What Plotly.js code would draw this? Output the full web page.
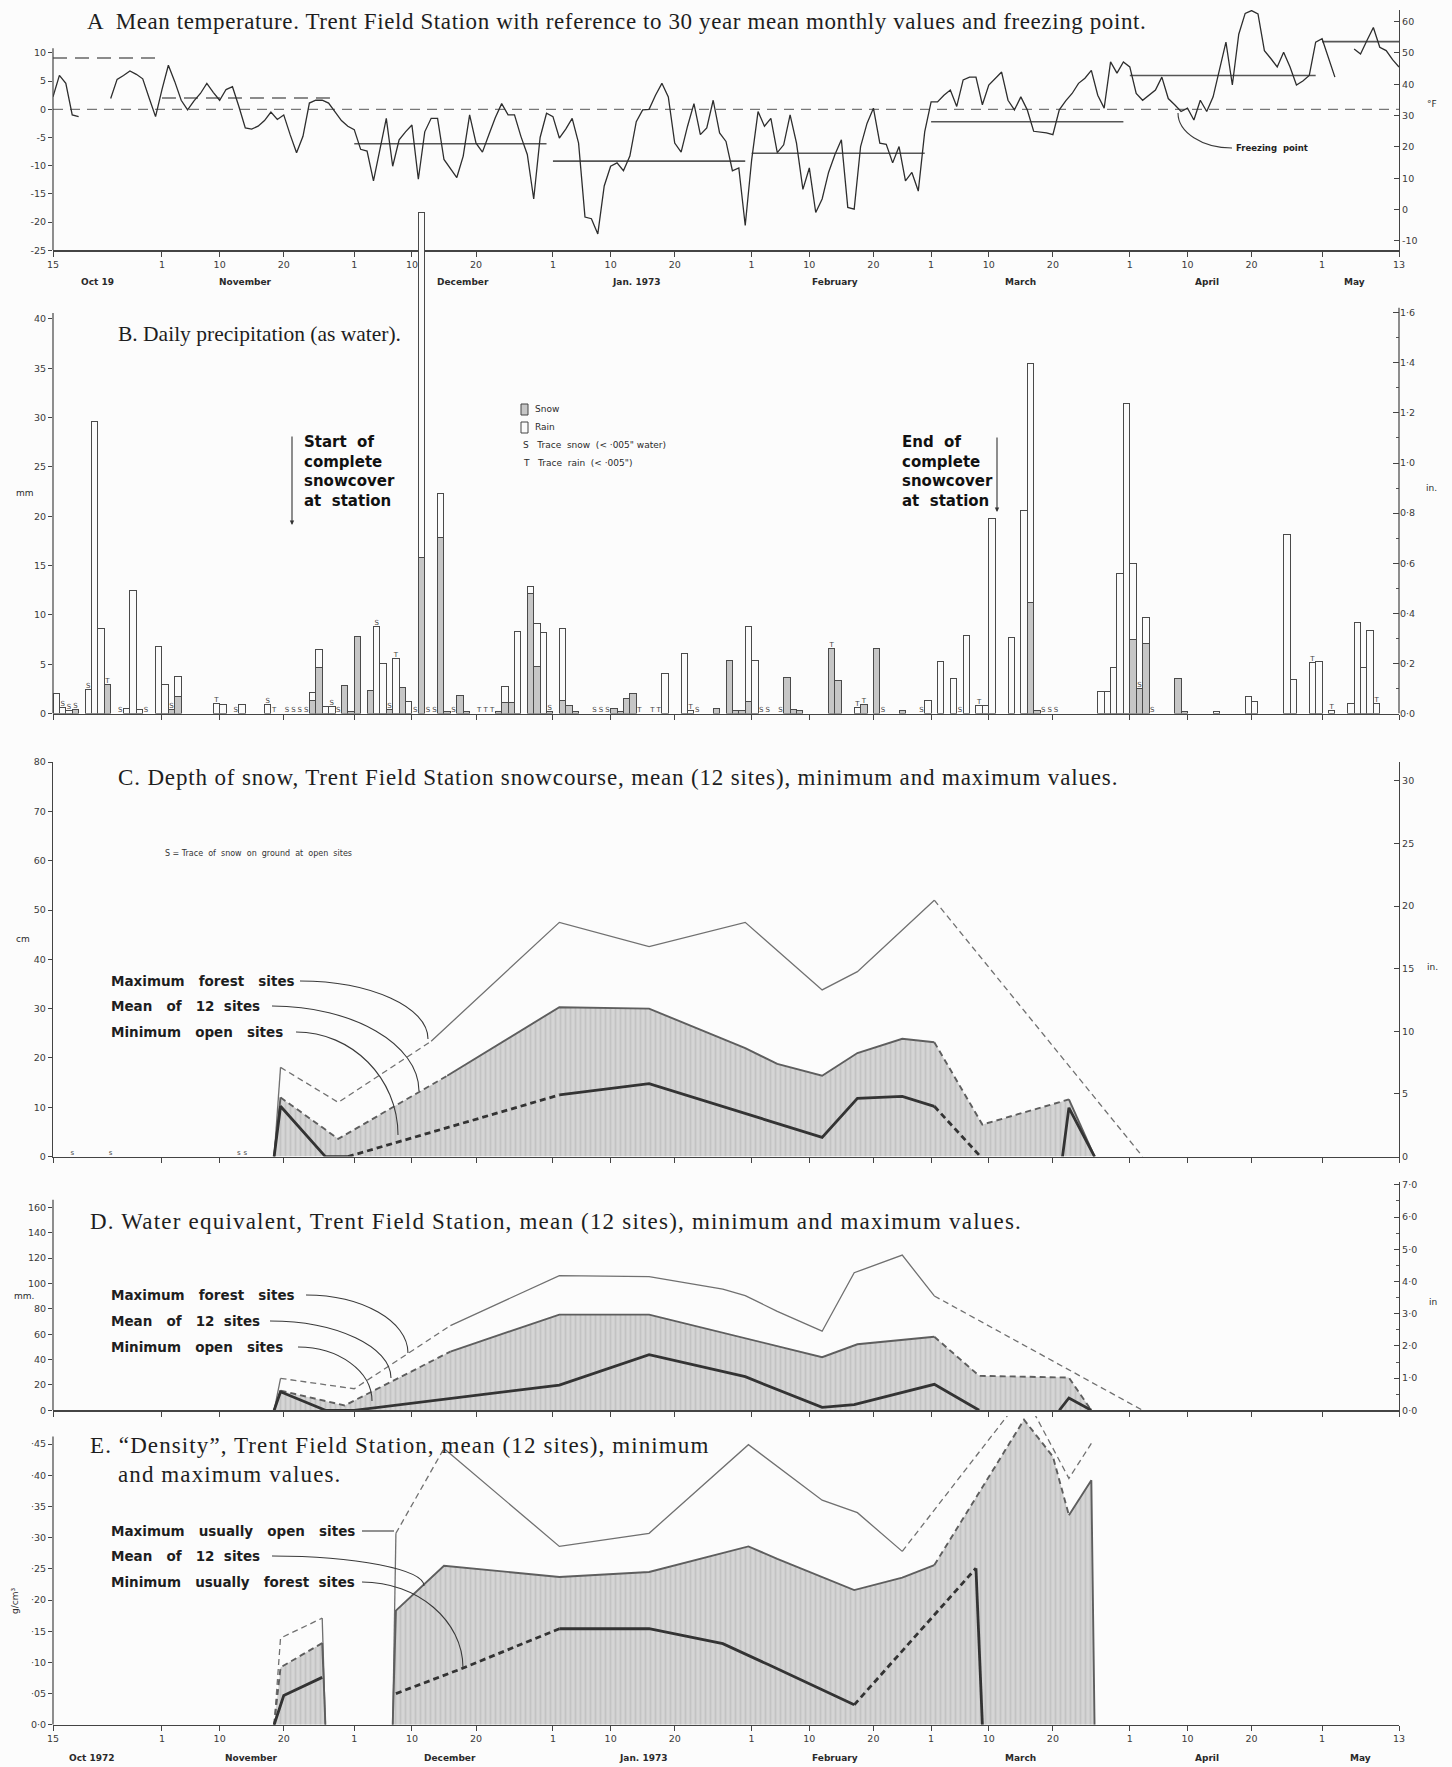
<!DOCTYPE html>
<html>
<head>
<meta charset="utf-8">
<script src="https://cdn.plot.ly/plotly-3.0.1.min.js"></script>
<style>
  html, body { margin: 0; padding: 0; background: #fcfcfc; }
  #chart { width: 1452px; height: 1767px; }
</style>
</head>
<body>
<div id="chart"></div>
<script>
// ===================== DATA =====================

// A. Daily mean temperature (°C), one value per day from 15 Oct 1972 (null = no record)
const tempStart = '1972-10-15';
const tempC = [
  2.2, 6.0, 4.6, -1.0, -1.3, null, null, null, null, 1.9,
  5.3, 6.0, 6.8, 6.2, 5.4, 2.0, -1.3, 3.5, 7.8, 4.9,
  1.6, -0.1, 1.5, 2.8, 4.6, 3.0, 1.6, 3.5, 4.0, 0.5,
  -3.3, -3.5, -3.0, -2.0, -0.5, -1.8, -1.0, -4.5, -7.7, -4.8,
  1.1, 1.6, 1.6, 1.1, -0.4, -2.0, -3.0, -3.6, -7.1, -7.4,
  -12.7, -7.4, -1.6, -10.1, -5.4, -4.0, -2.8, -12.4, -4.0, -1.6,
  -1.6, -8.9, -10.5, -12.1, -8.3, -1.0, -6.0, -7.6, -4.5, -1.5,
  1.0, -1.0, -1.0, -4.8, -8.0, -15.9, -5.0, -0.7, -1.3, -5.1,
  -3.5, -1.6, -6.0, -19.1, -19.4, -22.1, -13.6, -10.1, -9.5, -10.9,
  -8.3, -2.2, -0.1, 0.0, 2.5, 4.6, 2.2, -6.0, -7.6, -3.0,
  1.0, -4.5, -3.3, 1.6, -4.2, -5.7, -10.9, -10.4, -20.6, -9.0,
  -0.4, -3.0, -1.6, -7.7, -6.3, -1.0, -6.0, -14.2, -10.4, -18.3,
  -15.9, -11.2, -8.0, -5.4, -17.4, -17.7, -6.6, -2.5, 0.2, -6.0,
  -6.2, -9.5, -6.6, -12.7, -11.2, -14.5, -4.0, 1.3, 1.3, 2.5,
  3.4, 0.5, 5.2, 5.7, 5.7, 0.8, 4.3, 5.5, 6.6, 1.6,
  -0.1, 2.2, -0.1, -3.9, -4.0, -4.2, -4.5, -0.1, 1.5, 2.8,
  4.6, 5.5, 6.9, 2.5, 0.2, 8.4, 6.4, 8.4, 7.5, 2.8,
  1.6, 2.5, 3.4, 5.7, 1.9, 0.8, -0.4, 0.2, -1.9, 1.6,
  -0.4, 2.2, 7.0, 11.9, 4.3, 13.3, 17.0, 17.5, 16.9, 10.4,
  9.0, 7.5, 10.1, 7.5, 4.3, 5.0, 6.0, 11.9, 12.5, 9.0,
  5.7, null, null, 10.7, 9.8, 12.2, 14.5, 11.0, 10.4, 8.8, 7.5
];

// 30-year mean monthly temperatures (°C)
const normStart = ['1972-10-15', '1972-11-01', '1972-12-01', '1973-01-01', '1973-02-01', '1973-03-01', '1973-04-01', '1973-05-01'];
const normEnd   = ['1972-10-31', '1972-11-28', '1972-12-31', '1973-01-31', '1973-02-28', '1973-03-31', '1973-04-30', '1973-05-13'];
const normC     = [9.1, 2.0, -6.1, -9.2, -7.8, -2.2, 6.0, 12.0];

// B. Daily precipitation as water (mm)
const precipDate = [
  '1972-10-15', '1972-10-16', '1972-10-17', '1972-10-18', '1972-10-20', '1972-10-21', '1972-10-22', '1972-10-23',
  '1972-10-26', '1972-10-27', '1972-10-28', '1972-10-31', '1972-11-01', '1972-11-02', '1972-11-03', '1972-11-09',
  '1972-11-10', '1972-11-13', '1972-11-17', '1972-11-24', '1972-11-25', '1972-11-26', '1972-11-27', '1972-11-29',
  '1972-11-30', '1972-12-01', '1972-12-03', '1972-12-04', '1972-12-05', '1972-12-06', '1972-12-07', '1972-12-08',
  '1972-12-09', '1972-12-11', '1972-12-14', '1972-12-15', '1972-12-17', '1972-12-18', '1972-12-23', '1972-12-24',
  '1972-12-25', '1972-12-26', '1972-12-28', '1972-12-29', '1972-12-30', '1972-12-31', '1973-01-02', '1973-01-03',
  '1973-01-04', '1973-01-10', '1973-01-11', '1973-01-12', '1973-01-13', '1973-01-18', '1973-01-21', '1973-01-22',
  '1973-01-26', '1973-01-28', '1973-01-29', '1973-01-30', '1973-01-31', '1973-02-01', '1973-02-06', '1973-02-07',
  '1973-02-08', '1973-02-13', '1973-02-14', '1973-02-17', '1973-02-18', '1973-02-20', '1973-02-24', '1973-02-28',
  '1973-03-02', '1973-03-04', '1973-03-06', '1973-03-08', '1973-03-09', '1973-03-10', '1973-03-13', '1973-03-15',
  '1973-03-16', '1973-03-17', '1973-03-27', '1973-03-28', '1973-03-29', '1973-03-30', '1973-03-31', '1973-04-01',
  '1973-04-02', '1973-04-03', '1973-04-08', '1973-04-09', '1973-04-14', '1973-04-19', '1973-04-20', '1973-04-25',
  '1973-04-26', '1973-04-29', '1973-04-30', '1973-05-02', '1973-05-05', '1973-05-06', '1973-05-07', '1973-05-08',
  '1973-05-09'
];
const snowMM = [
  0, 0, 0, 0.4, 0, 0, 0, 2.9,
  0, 0, 0, 0, 0, 0.4, 1.7, 0,
  0, 0, 0, 1.3, 4.7, 0, 0, 2.8,
  0.2, 7.8, 2.3, 0, 0, 0.4, 0, 2.6,
  0, 15.8, 17.9, 0.2, 1.8, 0.2, 0.2, 1.1,
  1.1, 0, 12.2, 4.8, 0, 0.2, 1.3, 0.8,
  0.2, 0.5, 0.2, 1.5, 2.0, 0, 0, 0,
  0.5, 5.4, 0.3, 0.3, 1.2, 0, 3.7, 0.4,
  0.3, 6.6, 3.4, 0, 0.9, 6.6, 0.3, 0,
  0, 0, 0, 0, 0, 0, 0, 0,
  11.3, 0.3, 0, 0, 0, 0, 0, 7.5,
  2.5, 7.1, 3.6, 0.2, 0, 0, 0, 0,
  0, 0, 0, 0, 0, 0, 0, 0,
  0
];
const rainMM = [
  2.0, 0.6, 0.3, 0, 2.4, 29.6, 8.6, 0,
  0.5, 12.5, 0.4, 6.8, 2.9, 0, 2.1, 1.0,
  0.9, 0.9, 0.9, 0.8, 1.8, 0.7, 0.7, 0,
  0, 0, 0, 8.8, 5.1, 0, 5.6, 0,
  1.2, 35.0, 4.4, 0, 0, 0, 0, 1.6,
  0, 8.3, 0.7, 4.3, 8.2, 0, 7.3, 0,
  0, 0, 0, 0, 0, 4.1, 6.1, 0.3,
  0, 0, 0, 0, 7.6, 5.4, 0, 0,
  0, 0, 0, 0.6, 0, 0, 0, 1.3,
  5.3, 3.6, 7.9, 0.8, 0.8, 19.8, 7.7, 20.6,
  24.2, 0, 2.2, 2.2, 4.7, 14.2, 31.4, 7.7,
  0, 2.6, 0, 0, 0.2, 1.7, 1.2, 18.2,
  3.5, 5.2, 5.3, 0.3, 1.0, 9.2, 4.7, 8.4,
  1.0
];
// Trace amounts: S = trace snow, T = trace rain
const traceDate = [
  '1972-10-16', '1972-10-17', '1972-10-18', '1972-10-20', '1972-10-23', '1972-10-25', '1972-10-29', '1972-11-02',
  '1972-11-09', '1972-11-12', '1972-11-17', '1972-11-18', '1972-11-20', '1972-11-21', '1972-11-22', '1972-11-23',
  '1972-11-27', '1972-11-28', '1972-12-04', '1972-12-06', '1972-12-07', '1972-12-10', '1972-12-12', '1972-12-13',
  '1972-12-16', '1972-12-20', '1972-12-21', '1972-12-22', '1972-12-31', '1973-01-07', '1973-01-08', '1973-01-09',
  '1973-01-14', '1973-01-16', '1973-01-17', '1973-01-22', '1973-01-23', '1973-02-02', '1973-02-03', '1973-02-05',
  '1973-02-13', '1973-02-17', '1973-02-18', '1973-02-21', '1973-02-27', '1973-03-05', '1973-03-08', '1973-03-18',
  '1973-03-19', '1973-03-20', '1973-04-02', '1973-04-04', '1973-04-29', '1973-05-02', '1973-05-09'
];
const traceSym = [
  'S', 'S', 'S', 'S', 'T', 'S', 'S', 'S',
  'T', 'S', 'S', 'T', 'S', 'S', 'S', 'S',
  'S', 'S', 'S', 'S', 'T', 'S', 'S', 'S',
  'S', 'T', 'T', 'T', 'S', 'S', 'S', 'S',
  'T', 'T', 'T', 'T', 'S', 'S', 'S', 'S',
  'T', 'T', 'T', 'S', 'S', 'S', 'T', 'S',
  'S', 'S', 'S', 'S', 'T', 'T', 'T'
];

// C. Snow depth (cm): maximum (forest sites), mean of 12 sites, minimum (open sites)
const cMaxDate = ['1972-11-18 12:00', '1972-11-19 12:00', '1972-11-28 12:00', '1972-12-13', '1973-01-02', '1973-01-16',
  '1973-01-31', '1973-02-12', '1973-02-17 12:00', '1973-03-01 12:00', '1973-04-03'];
const cMaxCm = [0, 18.1, 11.0, 23.4, 47.5, 42.6, 47.5, 33.8, 37.5, 52.0, 0];
const cMaxEst = [['1972-11-19 12:00', '1972-12-13'], ['1973-03-01 12:00', '1973-04-03']];

const cMeanDate = ['1972-11-18 12:00', '1972-11-19 12:00', '1972-11-28 12:00', '1972-12-15 12:00', '1973-01-02', '1973-01-16',
  '1973-01-31', '1973-02-05', '1973-02-12', '1973-02-17 12:00', '1973-02-24 12:00', '1973-03-01 12:00', '1973-03-09',
  '1973-03-22 12:00', '1973-03-26 12:00'];
const cMeanCm = [0, 12.0, 3.6, 16.4, 30.3, 30.0, 22.0, 18.8, 16.4, 21.0, 23.9, 23.2, 6.5, 11.6, 0];
const cMeanEst = [['1972-11-19 12:00', '1972-12-15 12:00'], ['1973-03-01 12:00', '1973-03-22 12:00']];

const cMinDate = ['1972-11-18 12:00', '1972-11-19 12:00', '1972-11-26 12:00', '1972-11-30', '1973-01-02', '1973-01-16',
  '1973-02-12', '1973-02-17 12:00', '1973-02-24 12:00', '1973-03-01 12:00', '1973-03-08 12:00', null,
  '1973-03-21 12:00', '1973-03-22 12:00', '1973-03-26 12:00'];
const cMinCm = [0, 10.2, 0, 0, 12.5, 14.8, 3.9, 11.8, 12.2, 10.2, 0.3, null, 0, 9.9, 0];
const cMinEst = [['1972-11-30', '1973-01-02'], ['1973-03-01 12:00', '1973-03-08 12:00']];

const cTraceDate = ['1972-10-18', '1972-10-24', '1972-11-13', '1972-11-14'];

// D. Water equivalent (mm)
const dMaxDate = ['1972-11-18 12:00', '1972-11-19 12:00', '1972-12-01', '1972-12-16', '1973-01-02', '1973-01-16',
  '1973-01-27 12:00', '1973-01-31', '1973-02-05', '1973-02-12', '1973-02-17', '1973-02-24 12:00', '1973-03-01 12:00',
  '1973-04-03'];
const dMaxMM = [0, 25.2, 17.0, 66.8, 106.3, 105.4, 95.5, 90.5, 78.0, 62.4, 108.5, 122.4, 90.2, 0];
const dMaxEst = [['1972-11-19 12:00', '1972-12-16'], ['1973-03-01 12:00', '1973-04-03']];

const dMeanDate = ['1972-11-18 12:00', '1972-11-19 12:00', '1972-11-29 12:00', '1972-12-16', '1973-01-02', '1973-01-16',
  '1973-02-12', '1973-02-17 12:00', '1973-03-01 12:00', '1973-03-08 12:00', '1973-03-22 12:00', '1973-03-26'];
const dMeanMM = [0, 15.5, 3.8, 46.3, 75.5, 75.5, 41.9, 52.1, 58.0, 27.2, 25.8, 0];
const dMeanEst = [['1972-11-19 12:00', '1972-12-16'], ['1973-03-01 12:00', '1973-03-26']];

const dMinDate = ['1972-11-18 12:00', '1972-11-19 12:00', '1972-11-26 12:00', '1972-12-01', '1973-01-02', '1973-01-16',
  '1973-01-31', '1973-02-12', '1973-02-17', '1973-03-01 12:00', '1973-03-08 12:00', null,
  '1973-03-21', '1973-03-22 12:00', '1973-03-26'];
const dMinMM = [0, 14.6, 0, 0, 19.9, 43.9, 26.5, 2.3, 4.4, 20.5, 0, null, 0, 9.7, 0];
const dMinEst = [];

// E. Snow "density" (g/cm³)
const eMaxDate = ['1972-11-18 12:00', '1972-11-19 12:00', '1972-11-26', '1972-11-26 12:00', null,
  '1972-12-07', '1972-12-07 12:00', '1972-12-15', '1973-01-02', '1973-01-16', '1973-01-31 12:00', '1973-02-12',
  '1973-02-17 12:00', '1973-02-24 12:00', '1973-03-15 12:00', '1973-03-22 12:00', '1973-03-26'];
const eMaxG = [0, 0.139, 0.171, 0, null, 0, 0.307, 0.443, 0.286, 0.307, 0.449, 0.360, 0.340, 0.278, 0.53, 0.395, 0.451];
const eMaxEst = [['1972-11-18 12:00', '1972-11-26'], ['1972-12-07 12:00', '1972-12-15'], ['1973-02-24 12:00', '1973-03-26']];

const eMeanDate = ['1972-11-18 12:00', '1972-11-19 12:00', '1972-11-26', '1972-11-26 12:00', null,
  '1972-12-07', '1972-12-07 12:00', '1972-12-15', '1973-01-02', '1973-01-16', '1973-01-31 12:00', '1973-02-05',
  '1973-02-17', '1973-02-24 12:00', '1973-03-01 12:00', '1973-03-15 12:00', '1973-03-20', '1973-03-22 12:00',
  '1973-03-26', '1973-03-26 12:00'];
const eMeanG = [0, 0.092, 0.131, 0, null, 0, 0.183, 0.255, 0.237, 0.245, 0.286, 0.266, 0.216, 0.236, 0.256,
  0.489, 0.43, 0.336, 0.392, 0];
const eMeanEst = [['1972-11-18 12:00', '1972-11-26'], ['1973-03-01 12:00', '1973-03-22 12:00']];

const eMinDate = ['1972-11-18 12:00', '1972-11-20', '1972-11-26', null,
  '1972-12-07 12:00', '1972-12-17 12:00', '1973-01-02', '1973-01-16', '1973-01-27 12:00', '1973-02-03 12:00',
  '1973-02-17', '1973-03-08', '1973-03-09'];
const eMinG = [0, 0.047, 0.076, null, 0.05, 0.089, 0.154, 0.154, 0.13, 0.097, 0.032, 0.251, 0];
const eMinEst = [['1972-12-07 12:00', '1973-01-02'], ['1973-02-17', '1973-03-08']];

// Shared time axis
const tickDates = ['1972-10-15', '1972-11-01', '1972-11-10', '1972-11-20', '1972-12-01', '1972-12-10', '1972-12-20',
  '1973-01-01', '1973-01-10', '1973-01-20', '1973-02-01', '1973-02-10', '1973-02-20', '1973-03-01', '1973-03-10',
  '1973-03-20', '1973-04-01', '1973-04-10', '1973-04-20', '1973-05-01', '1973-05-13'];
const tickText = ['15', '1', '10', '20', '1', '10', '20', '1', '10', '20', '1', '10', '20', '1', '10', '20', '1', '10', '20', '1', '13'];
const monthTextA = ['Oct 19', 'November', 'December', 'Jan. 1973', 'February', 'March', 'April', 'May'];
const monthTextE = ['Oct 1972', 'November', 'December', 'Jan. 1973', 'February', 'March', 'April', 'May'];

// ===================== HELPERS =====================
const W = 1452, H = 1767;
const px = x => x / W;
const py = y => 1 - y / H;
const XD = [px(53), px(1399)];
const X_RANGE = ['1972-10-15', '1973-05-13'];

function addDays(iso, n) {
  const d = new Date(iso + 'T00:00:00Z');
  d.setUTCDate(d.getUTCDate() + n);
  return d.toISOString().slice(0, 10);
}
function toMs(s) {
  return Date.parse((s.length === 10 ? s + 'T00:00' : s.replace(' ', 'T')) + 'Z');
}
// split a polyline into measured (solid) and estimated (dashed) runs
function splitSeries(dates, vals, est) {
  const solid = { x: [], y: [] }, dashed = { x: [], y: [] };
  const estMs = est.map(([a, b]) => [toMs(a), toMs(b)]);
  for (let i = 0; i + 1 < dates.length; i++) {
    if (vals[i] == null || vals[i + 1] == null) continue;
    const a = toMs(dates[i]), b = toMs(dates[i + 1]);
    const isEst = estMs.some(([s, e]) => a >= s && b <= e);
    const t = isEst ? dashed : solid;
    const n = t.x.length;
    if (n && t.x[n - 1] === dates[i]) {
      t.x.push(dates[i + 1]); t.y.push(vals[i + 1]);
    } else {
      if (n) { t.x.push(null); t.y.push(null); }
      t.x.push(dates[i], dates[i + 1]); t.y.push(vals[i], vals[i + 1]);
    }
  }
  return { solid, dashed };
}
function pieces(dates, vals) {
  const out = []; let cur = null;
  dates.forEach((d, i) => {
    if (vals[i] == null) { cur = null; return; }
    if (!cur) { cur = { x: [], y: [] }; out.push(cur); }
    cur.x.push(d); cur.y.push(vals[i]);
  });
  return out;
}

const INK = '#2e2e2e';
const STYLE = {
  max:  { color: '#707070', width: 1.3 },
  mean: { color: '#5e5e5e', width: 1.9 },
  min:  { color: '#333333', width: 2.8 }
};
const SHADE = { shape: '|', bgcolor: '#d5d5d5', fgcolor: '#c3c3c3', size: 5, solidity: 0.35 };

function lineTraces(dates, vals, est, xa, ya, st) {
  const { solid, dashed } = splitSeries(dates, vals, est);
  return [
    { type: 'scatter', mode: 'lines', x: solid.x, y: solid.y, xaxis: xa, yaxis: ya,
      line: { color: st.color, width: st.width }, hoverinfo: 'skip', connectgaps: false },
    { type: 'scatter', mode: 'lines', x: dashed.x, y: dashed.y, xaxis: xa, yaxis: ya,
      line: { color: st.color, width: st.width, dash: '6px,4px' }, hoverinfo: 'skip', connectgaps: false }
  ];
}
function fillTraces(dates, vals, xa, ya) {
  return pieces(dates, vals).map(p => ({
    type: 'scatter', mode: 'none', x: p.x, y: p.y, xaxis: xa, yaxis: ya,
    fill: 'tozeroy', fillcolor: '#d5d5d5', fillpattern: SHADE, hoverinfo: 'skip'
  }));
}
function dummy(xa, ya, yv) {
  return { type: 'scatter', mode: 'markers', x: ['1972-10-15'], y: [yv], xaxis: xa, yaxis: ya,
    marker: { opacity: 0 }, hoverinfo: 'skip' };
}

// ===================== TRACES =====================
const traces = [];

// A: temperature
const tempDates = tempC.map((_, i) => addDays(tempStart, i));
traces.push({ type: 'scatter', mode: 'lines', x: [X_RANGE[0], X_RANGE[1]], y: [0, 0], xaxis: 'x', yaxis: 'y',
  line: { color: '#777', width: 1.3, dash: '10px,7px' }, hoverinfo: 'skip' });
{
  const dashX = [], dashY = [], solX = [], solY = [];
  normC.forEach((v, i) => {
    const tx = i < 2 ? dashX : solX, ty = i < 2 ? dashY : solY;
    tx.push(normStart[i], normEnd[i], null); ty.push(v, v, null);
  });
  traces.push({ type: 'scatter', mode: 'lines', x: dashX, y: dashY, xaxis: 'x', yaxis: 'y',
    line: { color: '#666', width: 1.6, dash: '14px,8px' }, hoverinfo: 'skip' });
  traces.push({ type: 'scatter', mode: 'lines', x: solX, y: solY, xaxis: 'x', yaxis: 'y',
    line: { color: '#555', width: 1.6 }, hoverinfo: 'skip' });
}
traces.push({ type: 'scatter', mode: 'lines', x: tempDates, y: tempC, xaxis: 'x', yaxis: 'y',
  line: { color: INK, width: 1.3 }, connectgaps: false, hoverinfo: 'skip' });
traces.push(dummy('x', 'y2', 0));

// B: precipitation bars (snow shaded, rain open)
const DAY = 86400000;
traces.push({ type: 'bar', x: precipDate, y: snowMM, xaxis: 'x2', yaxis: 'y3', width: DAY, offset: 0,
  marker: { color: '#c6c6c6', line: { color: '#4a4a4a', width: 1 } }, hoverinfo: 'skip' });
traces.push({ type: 'bar', x: precipDate, y: rainMM, xaxis: 'x2', yaxis: 'y3', width: DAY, offset: 0,
  marker: { color: '#fbfbfb', line: { color: '#4a4a4a', width: 1 } }, hoverinfo: 'skip' });
{
  const totals = {};
  precipDate.forEach((d, i) => { totals[d] = snowMM[i] + rainMM[i]; });
  traces.push({ type: 'scatter', mode: 'text', x: traceDate.map(d => d + ' 12:00'),
    y: traceDate.map(d => totals[d] || 0), text: traceSym, textposition: 'top center',
    textfont: { family: 'DejaVu Sans', size: 7, color: '#444' }, xaxis: 'x2', yaxis: 'y3', hoverinfo: 'skip' });
}
traces.push(dummy('x2', 'y4', 0));

// C: snow depth
traces.push(...fillTraces(cMeanDate, cMeanCm, 'x3', 'y5'));
traces.push(...lineTraces(cMaxDate, cMaxCm, cMaxEst, 'x3', 'y5', STYLE.max));
traces.push(...lineTraces(cMeanDate, cMeanCm, cMeanEst, 'x3', 'y5', STYLE.mean));
traces.push(...lineTraces(cMinDate, cMinCm, cMinEst, 'x3', 'y5', STYLE.min));
traces.push({ type: 'scatter', mode: 'text', x: cTraceDate, y: cTraceDate.map(() => 0), text: cTraceDate.map(() => 's'),
  textposition: 'top center', textfont: { family: 'DejaVu Sans', size: 7, color: '#444' },
  xaxis: 'x3', yaxis: 'y5', hoverinfo: 'skip' });
traces.push(dummy('x3', 'y6', 0));

// D: water equivalent
traces.push(...fillTraces(dMeanDate, dMeanMM, 'x4', 'y7'));
traces.push(...lineTraces(dMaxDate, dMaxMM, dMaxEst, 'x4', 'y7', STYLE.max));
traces.push(...lineTraces(dMeanDate, dMeanMM, dMeanEst, 'x4', 'y7', STYLE.mean));
traces.push(...lineTraces(dMinDate, dMinMM, dMinEst, 'x4', 'y7', STYLE.min));
traces.push(dummy('x4', 'y8', 0));

// E: density
traces.push(...fillTraces(eMeanDate, eMeanG, 'x5', 'y9'));
traces.push(...lineTraces(eMaxDate, eMaxG, eMaxEst, 'x5', 'y9', STYLE.max));
traces.push(...lineTraces(eMeanDate, eMeanG, eMeanEst, 'x5', 'y9', STYLE.mean));
traces.push(...lineTraces(eMinDate, eMinG, eMinEst, 'x5', 'y9', STYLE.min));

// ===================== AXES =====================
const TICKFONT = { family: 'DejaVu Sans', size: 9.5, color: '#3a3a3a' };
function xAxis(anchor, labels) {
  return {
    domain: XD, anchor, type: 'date', range: X_RANGE, tickvals: tickDates, ticktext: tickText,
    showticklabels: labels, ticks: 'outside', ticklen: 5, tickcolor: '#444', tickwidth: 1,
    showline: true, linecolor: '#444', linewidth: 1.2, showgrid: false, zeroline: false, tickfont: TICKFONT
  };
}
function yAxis(domain, range, vals, text, extra) {
  return Object.assign({
    domain, range, tickvals: vals, ticktext: text, ticks: 'outside', ticklen: 4, tickcolor: '#444',
    showgrid: false, zeroline: false, showline: false, linecolor: '#444', linewidth: 1.2, tickfont: TICKFONT
  }, extra || {});
}
const seq = (a, b, s) => { const o = []; for (let v = a; v <= b + 1e-9; v += s) o.push(+v.toFixed(3)); return o; };

const DOM_A = [py(250.3), py(10)];
const DOM_B = [py(713.6), py(200.6)];
const DOM_C = [py(1156.6), py(762.1)];
const DOM_D = [py(1410.3), py(1182.1)];
const DOM_E = [py(1724.8), py(1416)];

const aC = seq(-25, 10, 5), aF = seq(-10, 60, 10);
const bMM = seq(0, 40, 5), bIn = seq(0, 1.6, 0.2);
const cCm = seq(0, 80, 10), cIn = seq(0, 30, 5);
const dMM = seq(0, 160, 20), dIn = seq(0, 7, 1);
const eG = seq(0, 0.45, 0.05);
const dot = v => v.toFixed(1).replace('.', '·');

const layout = {
  width: W, height: H, margin: { l: 0, r: 0, t: 0, b: 0 },
  paper_bgcolor: '#fcfcfc', plot_bgcolor: 'rgba(0,0,0,0)',
  showlegend: false, barmode: 'stack', bargap: 0,
  font: { family: 'DejaVu Sans', size: 10, color: '#333' },

  xaxis: xAxis('y', true),
  yaxis: yAxis(DOM_A, [-25, 17.6], aC, aC.map(String), { anchor: 'x' }),
  yaxis2: yAxis(DOM_A, [-13, 63.68], aF, aF.map(String),
    { overlaying: 'y', side: 'right', anchor: 'x', showline: true, ticks: 'inside', ticklen: 5 }),

  xaxis2: xAxis('y3', false),
  yaxis3: yAxis(DOM_B, [0, 52], bMM, bMM.map(String), { anchor: 'x2' }),
  yaxis4: yAxis(DOM_B, [0, 52 / 25.4], bIn, bIn.map(dot),
    { overlaying: 'y3', side: 'right', anchor: 'x2', ticks: 'inside', ticklen: 6,
      minor: { tickvals: seq(0.1, 1.5, 0.2), ticks: 'inside', ticklen: 3, tickcolor: '#555' } }),

  xaxis3: xAxis('y5', false),
  yaxis5: yAxis(DOM_C, [0, 80], cCm, cCm.map(String), { anchor: 'x3', showline: true }),
  yaxis6: yAxis(DOM_C, [0, 80 / 2.54], cIn, cIn.map(String),
    { overlaying: 'y5', side: 'right', anchor: 'x3', showline: true, ticks: 'inside', ticklen: 5 }),

  xaxis4: xAxis('y7', false),
  yaxis7: yAxis(DOM_D, [0, 180], dMM, dMM.map(String), { anchor: 'x4' }),
  yaxis8: yAxis(DOM_D, [0, 180 / 25.4], dIn, dIn.map(dot),
    { overlaying: 'y7', side: 'right', anchor: 'x4', showline: true, ticks: 'inside', ticklen: 5,
      minor: { tickvals: seq(0.5, 6.5, 1), ticks: 'inside', ticklen: 3, tickcolor: '#555' } }),

  xaxis5: xAxis('y9', true),
  yaxis9: yAxis(DOM_E, [0, 0.495], eG, eG.map((v, i) => i === 0 ? '0·0' : '·' + v.toFixed(2).slice(2)), { anchor: 'x5' })
};

// ===================== SHAPES (axis lines, legend keys, leader curves) =====================
const shapes = [];
const vline = (x, yref, y0, y1) => shapes.push({ type: 'line', xref: 'paper', yref, x0: x, x1: x, y0, y1,
  line: { color: '#444', width: 1.2 } });
vline(XD[0], 'y', -25, 10.8);
vline(XD[0], 'y3', 0, 40.6);
vline(XD[1], 'y4', 0, 1.62);
vline(XD[0], 'y7', 0, 166);
vline(XD[0], 'y9', 0, 0.462);

// legend keys for snow / rain
shapes.push({ type: 'rect', xref: 'paper', yref: 'paper', x0: px(521), x1: px(528), y0: py(415), y1: py(404),
  fillcolor: '#c6c6c6', line: { color: '#444', width: 1 } });
shapes.push({ type: 'rect', xref: 'paper', yref: 'paper', x0: px(521), x1: px(528), y0: py(433), y1: py(422),
  fillcolor: '#fbfbfb', line: { color: '#444', width: 1 } });

function leader(x0, y0, x1, y1) {
  const k = 0.55;
  const c1x = x0 + k * (x1 - x0), c1y = y0;
  const c2x = x1, c2y = y1 - k * (y1 - y0);
  shapes.push({ type: 'path', xref: 'paper', yref: 'paper',
    path: `M ${px(x0)} ${py(y0)} C ${px(c1x)} ${py(c1y)} ${px(c2x)} ${py(c2y)} ${px(x1)} ${py(y1)}`,
    line: { color: '#3a3a3a', width: 1.1 } });
}
// panel C
leader(300, 981, 428, 1039);
leader(272, 1006, 419, 1091);
leader(296, 1032, 398, 1135);
// panel D
leader(306, 1295, 408, 1353);
leader(270, 1321, 391, 1378);
leader(298, 1347, 372, 1401);
// panel E
shapes.push({ type: 'line', xref: 'paper', yref: 'paper', x0: px(362), x1: px(394), y0: py(1531), y1: py(1531),
  line: { color: '#3a3a3a', width: 1.1 } });
leader(272, 1556, 424, 1586);
leader(362, 1582, 463, 1668);
// freezing point pointer
leader(1232, 148, 1178, 113);
layout.shapes = shapes;

// ===================== ANNOTATIONS =====================
const ann = [];
const titleFont = size => ({ family: 'Liberation Serif', size, color: '#1e1e1e' });
const LABEL = { family: 'DejaVu Sans', size: 13.5, color: '#1e1e1e', weight: 'bold' };
const SMALL = { family: 'DejaVu Sans', size: 9, color: '#2a2a2a' };
const spaced = (t, s) => `<span style="letter-spacing:${s}px">${t}</span>`;
function text(x, y, t, font, opts) {
  ann.push(Object.assign({ xref: 'paper', yref: 'paper', x: px(x), y: py(y), text: t, showarrow: false,
    xanchor: 'left', yanchor: 'middle', font }, opts || {}));
}
text(85, 21, spaced('A  Mean temperature. Trent Field Station with reference to 30 year mean monthly values and freezing point.', 0.6), titleFont(23));
text(116, 334, 'B. Daily precipitation (as water).', titleFont(21.5));
text(116, 778, spaced('C. Depth of snow, Trent Field Station snowcourse, mean (12 sites), minimum and maximum values.', 0.85), titleFont(23));
text(88, 1221, spaced('D. Water equivalent, Trent Field Station, mean (12 sites), minimum and maximum values.', 1.2), titleFont(23));
text(88, 1445, spaced('E. “Density”, Trent Field Station, mean (12 sites), minimum', 1.1), titleFont(23));
text(116, 1474, spaced('and maximum values.', 1.1), titleFont(23));

// axis unit labels
text(14, 493, 'mm', SMALL, { xanchor: 'left' });
text(1424, 488, 'in.', SMALL);
text(1425, 104, '°F', SMALL);
text(14, 939, 'cm', SMALL);
text(1425, 967, 'in.', SMALL);
text(12, 1296, 'mm.', SMALL);
text(1427, 1302, 'in', SMALL);
text(15, 1601, 'g/cm³', SMALL, { xanchor: 'center', textangle: -90 });

// panel A pointer text
text(1234, 148, 'Freezing  point', { family: 'DejaVu Sans', size: 8.5, color: '#222', weight: 'bold' });

// panel B legend and notes
text(533, 409, 'Snow', SMALL);
text(533, 427, 'Rain', SMALL);
text(521, 445, 'S   Trace  snow  (< ·005" water)', SMALL);
text(521, 463, 'T   Trace  rain  (< ·005")', SMALL);
const NOTE = { family: 'DejaVu Sans', size: 15, color: '#111', weight: 'bold' };
text(302, 431, 'Start  of<br>complete<br>snowcover<br>at  station', NOTE, { yanchor: 'top', align: 'left' });
text(900, 431, 'End  of<br>complete<br>snowcover<br>at  station', NOTE, { yanchor: 'top', align: 'left' });
ann.push({ xref: 'paper', yref: 'paper', x: px(292), y: py(525), ax: 0, ay: -90, text: '', showarrow: true,
  arrowhead: 2, arrowsize: 0.8, arrowwidth: 1.1, arrowcolor: '#333' });
ann.push({ xref: 'paper', yref: 'paper', x: px(997), y: py(512), ax: 0, ay: -76, text: '', showarrow: true,
  arrowhead: 2, arrowsize: 0.8, arrowwidth: 1.1, arrowcolor: '#333' });

// panel C–E labels
text(163, 853, 'S = Trace  of  snow  on  ground  at  open  sites', { family: 'DejaVu Sans', size: 8, color: '#333' });
text(109, 981, 'Maximum   forest   sites', LABEL);
text(109, 1006, 'Mean   of   12  sites', LABEL);
text(109, 1032, 'Minimum   open   sites', LABEL);
text(109, 1295, 'Maximum   forest   sites', LABEL);
text(109, 1321, 'Mean   of   12  sites', LABEL);
text(109, 1347, 'Minimum   open   sites', LABEL);
text(109, 1531, 'Maximum   usually   open   sites', LABEL);
text(109, 1556, 'Mean   of   12  sites', LABEL);
text(109, 1582, 'Minimum   usually   forest  sites', LABEL);

// month names under panels A and E
const monthPosA = ['1972-10-22', '1972-11-14', '1972-12-18', '1973-01-14', '1973-02-14', '1973-03-15', '1973-04-13', '1973-05-06'];
const monthPosE = ['1972-10-21', '1972-11-15', '1972-12-16', '1973-01-15', '1973-02-14', '1973-03-15', '1973-04-13', '1973-05-07'];
const MONTHFONT = { family: 'DejaVu Sans', size: 9, color: '#2a2a2a', weight: 'bold' };
monthTextA.forEach((t, i) => ann.push({ xref: 'x', yref: 'paper', x: monthPosA[i], y: py(282), text: t,
  showarrow: false, font: MONTHFONT, xanchor: 'center', yanchor: 'middle' }));
monthTextE.forEach((t, i) => ann.push({ xref: 'x5', yref: 'paper', x: monthPosE[i], y: py(1758), text: t,
  showarrow: false, font: MONTHFONT, xanchor: 'center', yanchor: 'middle' }));

layout.annotations = ann;

Plotly.newPlot('chart', traces, layout, { staticPlot: true, displayModeBar: false });
</script>
</body>
</html>
